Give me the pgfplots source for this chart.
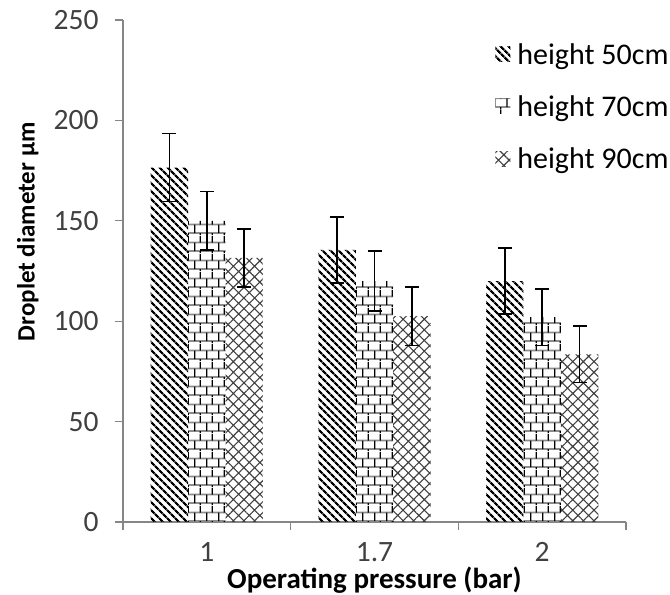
\documentclass[border=0pt]{standalone}
\usepackage{pgfplots}
\pgfplotsset{compat=1.18}
\usepackage{fontspec}
\setmainfont{Carlito}
\usetikzlibrary{patterns,patterns.meta}

\tikzdeclarepattern{
  name=mybricks, type=colored,
  bounding box={(0bp,0bp) and (12bp,18bp)},
  tile size={(12bp,18bp)},
  code={
    \draw[line width=1.8bp, black!45] (0bp,2bp) -- (12bp,2bp);
    \draw[line width=1.8bp, black!45] (0bp,11bp) -- (12bp,11bp);
    \draw[line width=1.3bp, black] (3bp,2bp) -- (3bp,11bp);
    \draw[line width=1.3bp, black] (9bp,11bp) -- (9bp,18bp);
    \draw[line width=1.3bp, black] (9bp,0bp) -- (9bp,2bp);
  }
}

\definecolor{axgray}{HTML}{868686}
\definecolor{txtgray}{HTML}{404040}

\begin{document}
\begin{tikzpicture}
\useasboundingbox (-123bp,-73bp) rectangle (547bp,522bp);
\begin{axis}[
  scale only axis,
  width=503bp, height=502bp,
  xmin=-0.5, xmax=2.5,
  ymin=0, ymax=250,
  ybar,
  bar width=0.223,
  axis x line*=bottom,
  axis y line*=left,
  axis line style={axgray, line width=1.2bp, -},
  xtick={0,1,2},
  xticklabels={1,1.7,2},
  minor xtick={-0.5,0.5,1.5,2.5},
  ytick={0,50,100,150,200,250},
  tick align=outside,
  major tick length=8bp,
  minor tick length=8bp,
  x tick style={draw=none},
  minor x tick style={draw=axgray, line width=1.2bp},
  y tick style={axgray, line width=1.2bp},
  /pgf/number format/assume math mode=true,
  ticklabel style={font=\fontsize{29.5bp}{34bp}\selectfont, text=txtgray},
  yticklabel style={xshift=-13bp},
  xticklabel style={yshift=-9bp},
  xlabel={\textbf{Operating pressure (bar)}},
  ylabel={\textbf{Droplet diameter µm}},
  xlabel style={font=\fontsize{29bp}{34bp}\selectfont, at={(axis description cs:0.5,-0.1155)}, anchor=center},
  ylabel style={font=\fontsize{25bp}{30bp}\selectfont, at={(axis description cs:-0.189,0.578)}, anchor=center, rotate=0},
  legend style={draw=none, fill=none, font=\fontsize{30bp}{34bp}\selectfont,
    at={(axis description cs:0.74,0.958)}, anchor=north west, row sep=26bp, column sep=5bp,
    inner sep=0pt, nodes={inner sep=2bp}},
  legend cell align=left,
  legend image code/.code={\path[#1,draw=none] (0bp,-7bp) rectangle (15bp,8bp);},
  error bars/error bar style={line width=1.5bp, black},
  error bars/error mark options={rotate=90, mark size=7bp, line width=1.5bp, black},
]
\addplot[draw=none, bar shift=-0.223, pattern={Lines[angle=-45,distance=6bp,line width=2.7bp]}, pattern color=black,
  error bars/.cd, y dir=both, y explicit]
  coordinates {(0,176.5) +- (0,17) (1,135.5) +- (0,16.5) (2,120) +- (0,16.5)};
\addlegendentry{height 50cm}
\addplot[draw=none, bar shift=0, pattern=mybricks,
  error bars/.cd, y dir=both, y explicit]
  coordinates {(0,150) +- (0,14.5) (1,120) +- (0,15) (2,102) +- (0,14)};
\addlegendentry{height 70cm}
\addplot[draw=none, bar shift=0.223, pattern={Hatch[angle=45,distance=7.5bp,line width=1.1bp]}, pattern color=black!75,
  error bars/.cd, y dir=both, y explicit]
  coordinates {(0,131.5) +- (0,14.5) (1,102.5) +- (0,14.5) (2,83.5) +- (0,14)};
\addlegendentry{height 90cm}
\end{axis}
\end{tikzpicture}
\end{document}
